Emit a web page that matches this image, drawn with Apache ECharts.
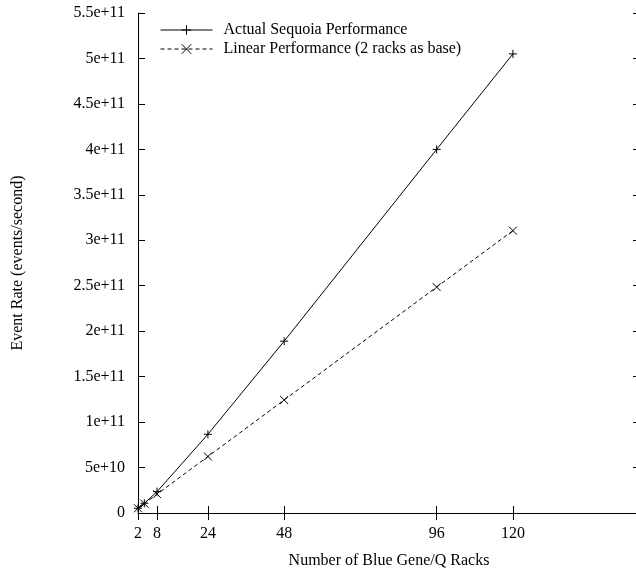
<!DOCTYPE html>
<html>
<head>
<meta charset="utf-8">
<script src="https://cdn.jsdelivr.net/npm/echarts@6/dist/echarts.min.js"></script>
<style>
  html, body { margin: 0; padding: 0; background: #fff; }
  #main { width: 636px; height: 571px; }
</style>
</head>
<body>
<div id="main"></div>
<script>
// racks on the x axis
var racks = [2, 4, 8, 24, 48, 96, 120];
// events per second
var actualRate = [5.2e9, 1.07e10, 2.35e10, 8.66e10, 1.89e11, 4.0e11, 5.05e11];
var linearRate = [5.18e9, 1.036e10, 2.07e10, 6.21e10, 1.243e11, 2.485e11, 3.106e11];

var xTicks = [2, 8, 24, 48, 96, 120];
var yTickLabels = ['0', '5e+10', '1e+11', '1.5e+11', '2e+11', '2.5e+11', '3e+11',
                   '3.5e+11', '4e+11', '4.5e+11', '5e+11', '5.5e+11'];

var font = '"Liberation Serif", "DejaVu Serif", serif';
var plus = 'path://M5,0L5,10M0,5L10,5';
var cross = 'path://M0,0L10,10M10,0L0,10';

function pairs(xs, ys) {
    return xs.map(function (x, i) { return [x, ys[i]]; });
}

var chart = echarts.init(document.getElementById('main'));

var tick = { show: true, inside: true, length: 7, lineStyle: { color: '#000', width: 1 } };

var option = {
    animation: false,
    textStyle: { fontFamily: font, color: '#000' },
    grid: { left: 138, top: 13, width: 502, height: 500, outerBoundsMode: 'none', containLabel: false },
    legend: {
        orient: 'vertical',
        left: 160,
        top: 22,
        padding: 0,
        itemWidth: 52,
        itemHeight: 12,
        itemGap: 3,
        lineStyle: { width: 1 },
        itemStyle: { borderWidth: 1 },
        textStyle: { fontFamily: font, fontSize: 16, color: '#000', padding: [0, 0, 0, 6] },
        data: ['Actual Sequoia Performance', 'Linear Performance (2 racks as base)']
    },
    xAxis: [{
        type: 'value',
        min: 2,
        max: 160,
        name: 'Number of Blue Gene/Q Racks',
        nameLocation: 'middle',
        nameGap: 40,
        nameTextStyle: { fontFamily: font, fontSize: 16, color: '#000' },
        axisLine: { show: true, lineStyle: { color: '#000', width: 1 } },
        axisTick: Object.assign({ customValues: xTicks }, tick),
        axisLabel: { customValues: xTicks, margin: 13, fontFamily: font, fontSize: 16, color: '#000' },
        splitLine: { show: false }
    }, {
        type: 'value',
        position: 'top',
        min: 2,
        max: 160,
        axisLine: { show: false },
        axisTick: Object.assign({ customValues: xTicks }, tick),
        axisLabel: { show: false },
        splitLine: { show: false }
    }],
    yAxis: [{
        type: 'value',
        min: 0,
        max: 5.5e11,
        interval: 5e10,
        name: 'Event Rate (events/second)',
        nameLocation: 'middle',
        nameGap: 112,
        nameTextStyle: { fontFamily: font, fontSize: 16, color: '#000' },
        axisLine: { show: true, lineStyle: { color: '#000', width: 1 } },
        axisTick: tick,
        axisLabel: {
            margin: 13,
            fontFamily: font,
            fontSize: 16,
            color: '#000',
            formatter: function (v) { return yTickLabels[Math.round(v / 5e10)]; }
        },
        splitLine: { show: false }
    }, {
        type: 'value',
        position: 'right',
        min: 0,
        max: 5.5e11,
        interval: 5e10,
        axisLine: { show: false },
        axisTick: tick,
        axisLabel: { show: false },
        splitLine: { show: false }
    }],
    series: [{
        name: 'Actual Sequoia Performance',
        type: 'line',
        data: pairs(racks, actualRate),
        symbol: plus,
        symbolSize: 8,
        showSymbol: true,
        lineStyle: { color: '#000', width: 1 },
        itemStyle: { color: '#000', borderColor: '#000', borderWidth: 1 },
        emphasis: { disabled: true }
    }, {
        name: 'Linear Performance (2 racks as base)',
        type: 'line',
        data: pairs(racks, linearRate),
        symbol: cross,
        symbolSize: 8,
        showSymbol: true,
        lineStyle: { color: '#000', width: 1, type: [4, 3] },
        itemStyle: { color: '#000', borderColor: '#000', borderWidth: 1 },
        emphasis: { disabled: true }
    }]
};

chart.setOption(option);
</script>
</body>
</html>
